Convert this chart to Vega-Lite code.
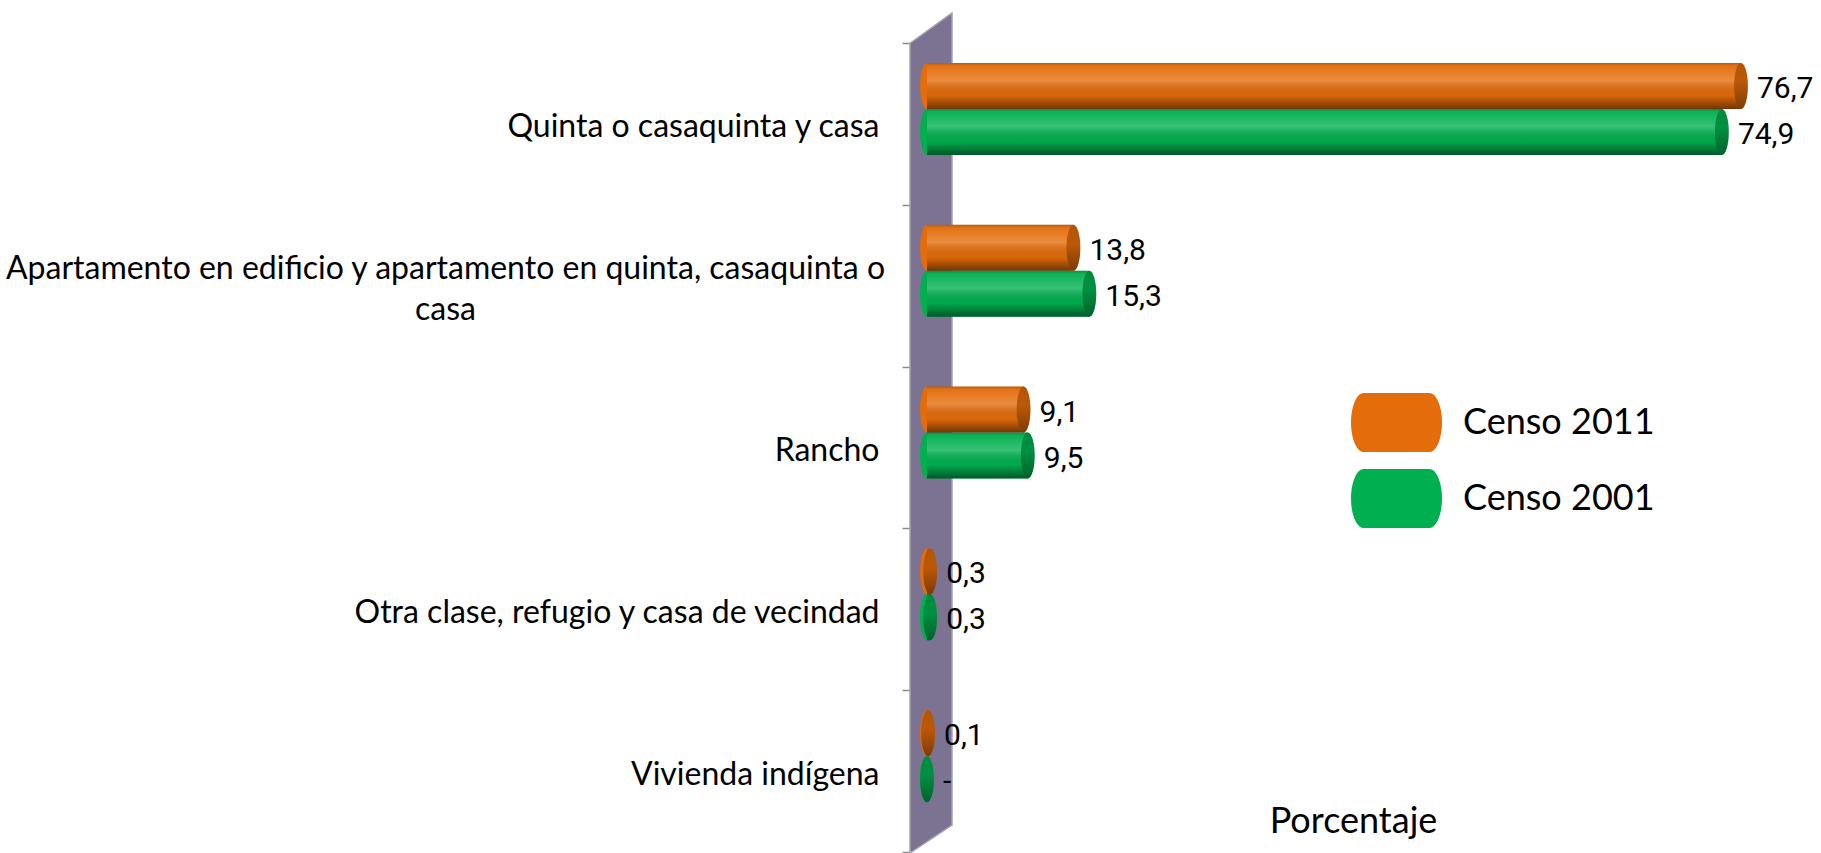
{
  "$schema": "https://vega.github.io/schema/vega-lite/v6.json",
  "width": 866,
  "height": 840,
  "autosize": {"type": "none"},
  "padding": {"left": 910, "top": 13, "right": 45, "bottom": 0},
  "background": "white",
  "config": {"view": {"stroke": null}},
  "datasets": {
    "viviendas": [
      {"clase": "Quinta o casaquinta y casa", "censo": "Censo 2011", "pct": 76.7, "etiqueta": "76,7"},
      {"clase": "Quinta o casaquinta y casa", "censo": "Censo 2001", "pct": 74.9, "etiqueta": "74,9"},
      {"clase": "Apartamento en edificio y apartamento en quinta, casaquinta o casa", "censo": "Censo 2011", "pct": 13.8, "etiqueta": "13,8"},
      {"clase": "Apartamento en edificio y apartamento en quinta, casaquinta o casa", "censo": "Censo 2001", "pct": 15.3, "etiqueta": "15,3"},
      {"clase": "Rancho", "censo": "Censo 2011", "pct": 9.1, "etiqueta": "9,1"},
      {"clase": "Rancho", "censo": "Censo 2001", "pct": 9.5, "etiqueta": "9,5"},
      {"clase": "Otra clase, refugio y casa de vecindad", "censo": "Censo 2011", "pct": 0.3, "etiqueta": "0,3"},
      {"clase": "Otra clase, refugio y casa de vecindad", "censo": "Censo 2001", "pct": 0.3, "etiqueta": "0,3"},
      {"clase": "Vivienda indígena", "censo": "Censo 2011", "pct": 0.1, "etiqueta": "0,1"},
      {"clase": "Vivienda indígena", "censo": "Censo 2001", "pct": 0, "etiqueta": "-"}
    ],
    "pared": [
      {"px": -1.6, "arriba": 96.4, "abajo": 0},
      {"px": 2.36, "arriba": 100, "abajo": 3.33}
    ]
  },
  "layer": [
    {
      "data": {"name": "pared"},
      "mark": {"type": "area", "orient": "vertical", "color": "#7B7391", "stroke": "#A7A4B2", "strokeWidth": 1.5, "opacity": 1},
      "encoding": {
        "x": {
          "field": "px", "type": "quantitative",
          "scale": {"domain": [-1.6, 80], "nice": false, "zero": false},
          "axis": {
            "domain": false, "ticks": false, "labels": false, "grid": false,
            "title": "Porcentaje", "titleFont": "Lato", "titleFontSize": 36, "titleFontWeight": "normal",
            "titleColor": "black", "titleX": 443, "titleY": -32, "titleAlign": "center", "titleBaseline": "middle"
          }
        },
        "y": {"field": "arriba", "type": "quantitative", "scale": {"domain": [0, 100], "nice": false, "zero": false}, "axis": null},
        "y2": {"field": "abajo"}
      }
    },
    {
      "data": {"name": "viviendas"},
      "encoding": {
        "y": {
          "field": "clase", "type": "nominal", "sort": null,
          "scale": {"paddingInner": 0, "paddingOuter": 0.096, "align": 0.968},
          "axis": {
            "title": null, "domain": false, "ticks": true, "tickBand": "extent", "tickSize": 8, "tickColor": "#8C8C8C", "tickWidth": 1.5,
            "labelFont": "Lato", "labelFontSize": 32, "labelColor": "black", "labelLimit": 1000, "labelLineHeight": 41,
            "labelBaseline": "middle",
            "labelPadding": {"condition": {"test": "datum.value == 'Apartamento en edificio y apartamento en quinta, casaquinta o casa'", "value": 457}, "value": 23},
            "labelOffset": {"condition": {"test": "datum.value == 'Apartamento en edificio y apartamento en quinta, casaquinta o casa'", "value": -17}, "value": 3},
            "labelAlign": {"condition": {"test": "datum.value == 'Apartamento en edificio y apartamento en quinta, casaquinta o casa'", "value": "center"}, "value": "right"},
            "labelExpr": "datum.value == 'Apartamento en edificio y apartamento en quinta, casaquinta o casa' ? ['Apartamento en edificio y apartamento en quinta, casaquinta o', 'casa'] : datum.label"
          }
        },
        "yOffset": {
          "field": "censo", "type": "nominal",
          "scale": {"domain": ["Censo 2011", "Censo 2001"], "paddingInner": 0, "paddingOuter": 0.76, "align": 0.286}
        },
        "color": {
          "field": "censo", "type": "nominal",
          "scale": {"domain": ["Censo 2011", "Censo 2001"], "range": ["#E46C0A", "#00B050"]},
          "legend": {
            "orient": "none", "legendX": 441, "legendY": 364, "title": null,
            "symbolType": "M-0.72,-0.65 L0.72,-0.65 A0.28,0.65 0 0 1 0.72,0.65 L-0.72,0.65 A0.28,0.65 0 0 1 -0.72,-0.65 Z",
            "symbolSize": 8281, "symbolStrokeWidth": 0, "symbolOpacity": 1,
            "labelFont": "Lato", "labelFontSize": 36, "labelColor": "black", "labelOffset": 21, "labelLimit": 400, "rowPadding": -5
          }
        }
      },
      "layer": [
        {
          "mark": {"type": "point", "filled": true, "opacity": 1, "strokeWidth": 0, "size": 2116, "shape": "M0,-1 A0.3,1 0 1,1 0,1 A0.3,1 0 1,1 0,-1 Z"},
          "encoding": {
            "x": {"datum": 0, "type": "quantitative"}
          }
        },
        {
          "mark": {"type": "bar"},
          "encoding": {
            "x": {"field": "pct", "type": "quantitative"}
          }
        },
        {
          "mark": {
            "type": "bar",
            "fill": {"gradient": "linear", "x1": 0, "y1": 0, "x2": 0, "y2": 1, "stops": [
              {"offset": 0, "color": "rgba(0,0,0,0.18)"},
              {"offset": 0.1, "color": "rgba(255,255,255,0.06)"},
              {"offset": 0.38, "color": "rgba(255,255,255,0.22)"},
              {"offset": 0.7, "color": "rgba(0,0,0,0.04)"},
              {"offset": 1, "color": "rgba(0,0,0,0.5)"}
            ]}
          },
          "encoding": {"x": {"field": "pct", "type": "quantitative"}, "color": {"value": null}}
        },
        {
          "mark": {"type": "point", "filled": true, "opacity": 1, "strokeWidth": 0, "size": 2116, "shape": "M0,-1 A0.3,1 0 1,1 0,1 A0.3,1 0 1,1 0,-1 Z"},
          "encoding": {
            "x": {"field": "pct", "type": "quantitative"}
          }
        },
        {
          "mark": {
            "type": "point", "filled": true, "opacity": 1, "strokeWidth": 0, "size": 2116, "shape": "M0,-1 A0.3,1 0 1,1 0,1 A0.3,1 0 1,1 0,-1 Z",
            "fill": {"gradient": "linear", "x1": 0, "y1": 0, "x2": 0, "y2": 1, "stops": [
              {"offset": 0, "color": "rgba(0,0,0,0.22)"},
              {"offset": 0.4, "color": "rgba(0,0,0,0.18)"},
              {"offset": 1, "color": "rgba(0,0,0,0.45)"}
            ]}
          },
          "encoding": {"x": {"field": "pct", "type": "quantitative"}, "color": {"value": null}}
        },
        {
          "mark": {"type": "text", "align": "left", "baseline": "middle", "dx": 16, "dy": 3, "font": "Roboto", "fontSize": 30, "fill": "black"},
          "encoding": {
            "x": {"field": "pct", "type": "quantitative"},
            "text": {"field": "etiqueta", "type": "nominal"},
            "color": {"value": "black"}
          }
        }
      ]
    }
  ],
  "resolve": {"scale": {"y": "independent"}}
}
